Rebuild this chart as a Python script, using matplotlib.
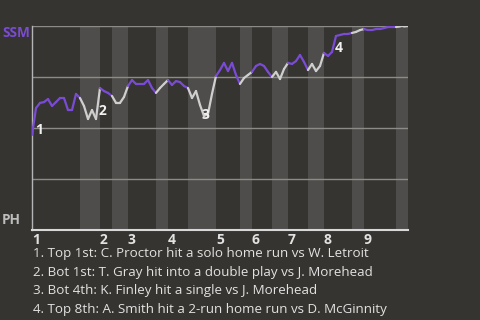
import matplotlib
matplotlib.use("Agg")
import matplotlib.pyplot as plt
import numpy as np
from matplotlib.collections import LineCollection

# ---- data -------------------------------------------------------------
# events per half inning (Top 1st, Bot 1st, Top 2nd, ...)
half_inning_events = [12, 5, 3, 4, 7, 3, 5, 7, 6, 3, 5, 4, 5, 4, 7, 3, 8, 3]
innings = ["1", "2", "3", "4", "5", "6", "7", "8", "9"]

# SSM win probability after each event (first value = before first pitch)
wp = [0.466,
      # Top 1st
      0.598, 0.623, 0.627, 0.642, 0.608, 0.627, 0.647, 0.647, 0.588, 0.588, 0.667, 0.647,
      # Bot 1st
      0.608, 0.544, 0.588, 0.544, 0.696,
      # Top 2nd
      0.681, 0.672, 0.657,
      # Bot 2nd
      0.623, 0.623, 0.652, 0.706,
      # Top 3rd
      0.735, 0.716, 0.716, 0.716, 0.735, 0.696, 0.672,
      # Bot 3rd
      0.696, 0.716, 0.735,
      # Top 4th
      0.711, 0.730, 0.725, 0.706, 0.696,
      # Bot 4th
      0.647, 0.681, 0.613, 0.559, 0.569, 0.667, 0.755,
      # Top 5th
      0.784, 0.819, 0.779, 0.819, 0.760, 0.716,
      # Bot 5th
      0.745, 0.760, 0.775,
      # Top 6th
      0.804, 0.814, 0.804, 0.775, 0.750,
      # Bot 6th
      0.775, 0.740, 0.789, 0.819,
      # Top 7th
      0.814, 0.828, 0.858, 0.824, 0.784,
      # Bot 7th
      0.814, 0.779, 0.804, 0.868,
      # Top 8th
      0.853, 0.873, 0.951, 0.956, 0.961, 0.961, 0.966,
      # Bot 8th
      0.971, 0.980, 0.985,
      # Top 9th
      0.980, 0.980, 0.985, 0.985, 0.990, 0.995, 0.995, 0.995,
      # Bot 9th
      0.998, 0.998, 1.000]

# key plays: label, event index
key_labels = ["1", "2", "3", "4"]
key_events = [1, 17, 43, 76]
key_texts = [
    "1. Top 1st: C. Proctor hit a solo home run vs W. Letroit",
    "2. Bot 1st: T. Gray hit into a double play vs J. Morehead",
    "3. Bot 4th: K. Finley hit a single vs J. Morehead",
    "4. Top 8th: A. Smith hit a 2-run home run vs D. McGinnity",
]
team_top = "SSM"
team_bottom = "PH"

# ---- style ------------------------------------------------------------
BG = "#363430"
BAND = "#4e4d4b"
PURPLE = "#7a4bd4"
WHITE_LINE = "#cfcfcf"
GRID = "#8c8b88"
TXT = "#e2e2e2"
FONT = "Open Sans"

fig = plt.figure(figsize=(4.8, 3.2), dpi=100, facecolor=BG)
ax = fig.add_axes([32 / 480, 90 / 320, 376 / 480, 204 / 320])
ax.set_facecolor(BG)

bounds = np.concatenate([[0], np.cumsum(half_inning_events)])
x = np.arange(len(wp))
y = np.asarray(wp, dtype=float)

# bands for bottom halves
for i in range(len(half_inning_events)):
    if i % 2 == 1:
        ax.axvspan(bounds[i], bounds[i + 1], color=BAND, lw=0, zorder=0)

# grid lines
for g in [0.25, 0.5, 0.75, 1.0]:
    ax.axhline(g, color=GRID, lw=1.0, zorder=1)

# line segments coloured by half inning (segment i-1 -> i belongs to half of event i)
half_of_event = np.searchsorted(bounds, x[1:], side="left") - 1
seg_colors = [PURPLE if h % 2 == 0 else WHITE_LINE for h in half_of_event]
segments = [[(x[k], y[k]), (x[k + 1], y[k + 1])] for k in range(len(x) - 1)]
lc = LineCollection(segments, colors=seg_colors, linewidths=1.6, zorder=3,
                    capstyle="round", joinstyle="round")
ax.add_collection(lc)

# key play labels
offsets = [(-0.25, -0.108), (-0.25, -0.113), (-0.5, 0.003), (-0.25, -0.059)]
for lab, ev, (dx, dy) in zip(key_labels, key_events, offsets):
    ax.text(x[ev] + dx, y[ev] + dy, lab, color="#f0f0f0", fontsize=10,
            fontweight="bold", family=FONT, ha="left", va="center", zorder=4)

ax.set_xlim(0, bounds[-1])
ax.set_ylim(0, 1)

for side in ["top", "right"]:
    ax.spines[side].set_visible(False)
ax.spines["left"].set_color("#b5b5b5")
ax.spines["left"].set_linewidth(1.0)
ax.spines["bottom"].set_color("#d8d8d8")
ax.spines["bottom"].set_linewidth(1.5)

ax.set_yticks([])
ax.set_xticks(bounds[:-1:2])
ax.set_xticklabels(innings, color=TXT, fontsize=10, fontweight="bold", family=FONT,
                   ha="left")
ax.tick_params(axis="x", length=0, pad=2)

# team labels
fig.text(2 / 480, 1 - 33 / 320, team_top, color=PURPLE, fontsize=9.8,
         fontweight="bold", family=FONT, ha="left", va="center")
fig.text(2 / 480, 1 - 220 / 320, team_bottom, color="#bdbdbd", fontsize=9.8,
         fontweight="bold", family=FONT, ha="left", va="center")

# key play descriptions
for k, t in enumerate(key_texts):
    fig.text(33 / 480, 1 - (254 + 18.4 * k) / 320, t, color=TXT, fontsize=9.6,
             family=FONT, ha="left", va="center")

fig.savefig("out.png", dpi=100, facecolor=BG)
